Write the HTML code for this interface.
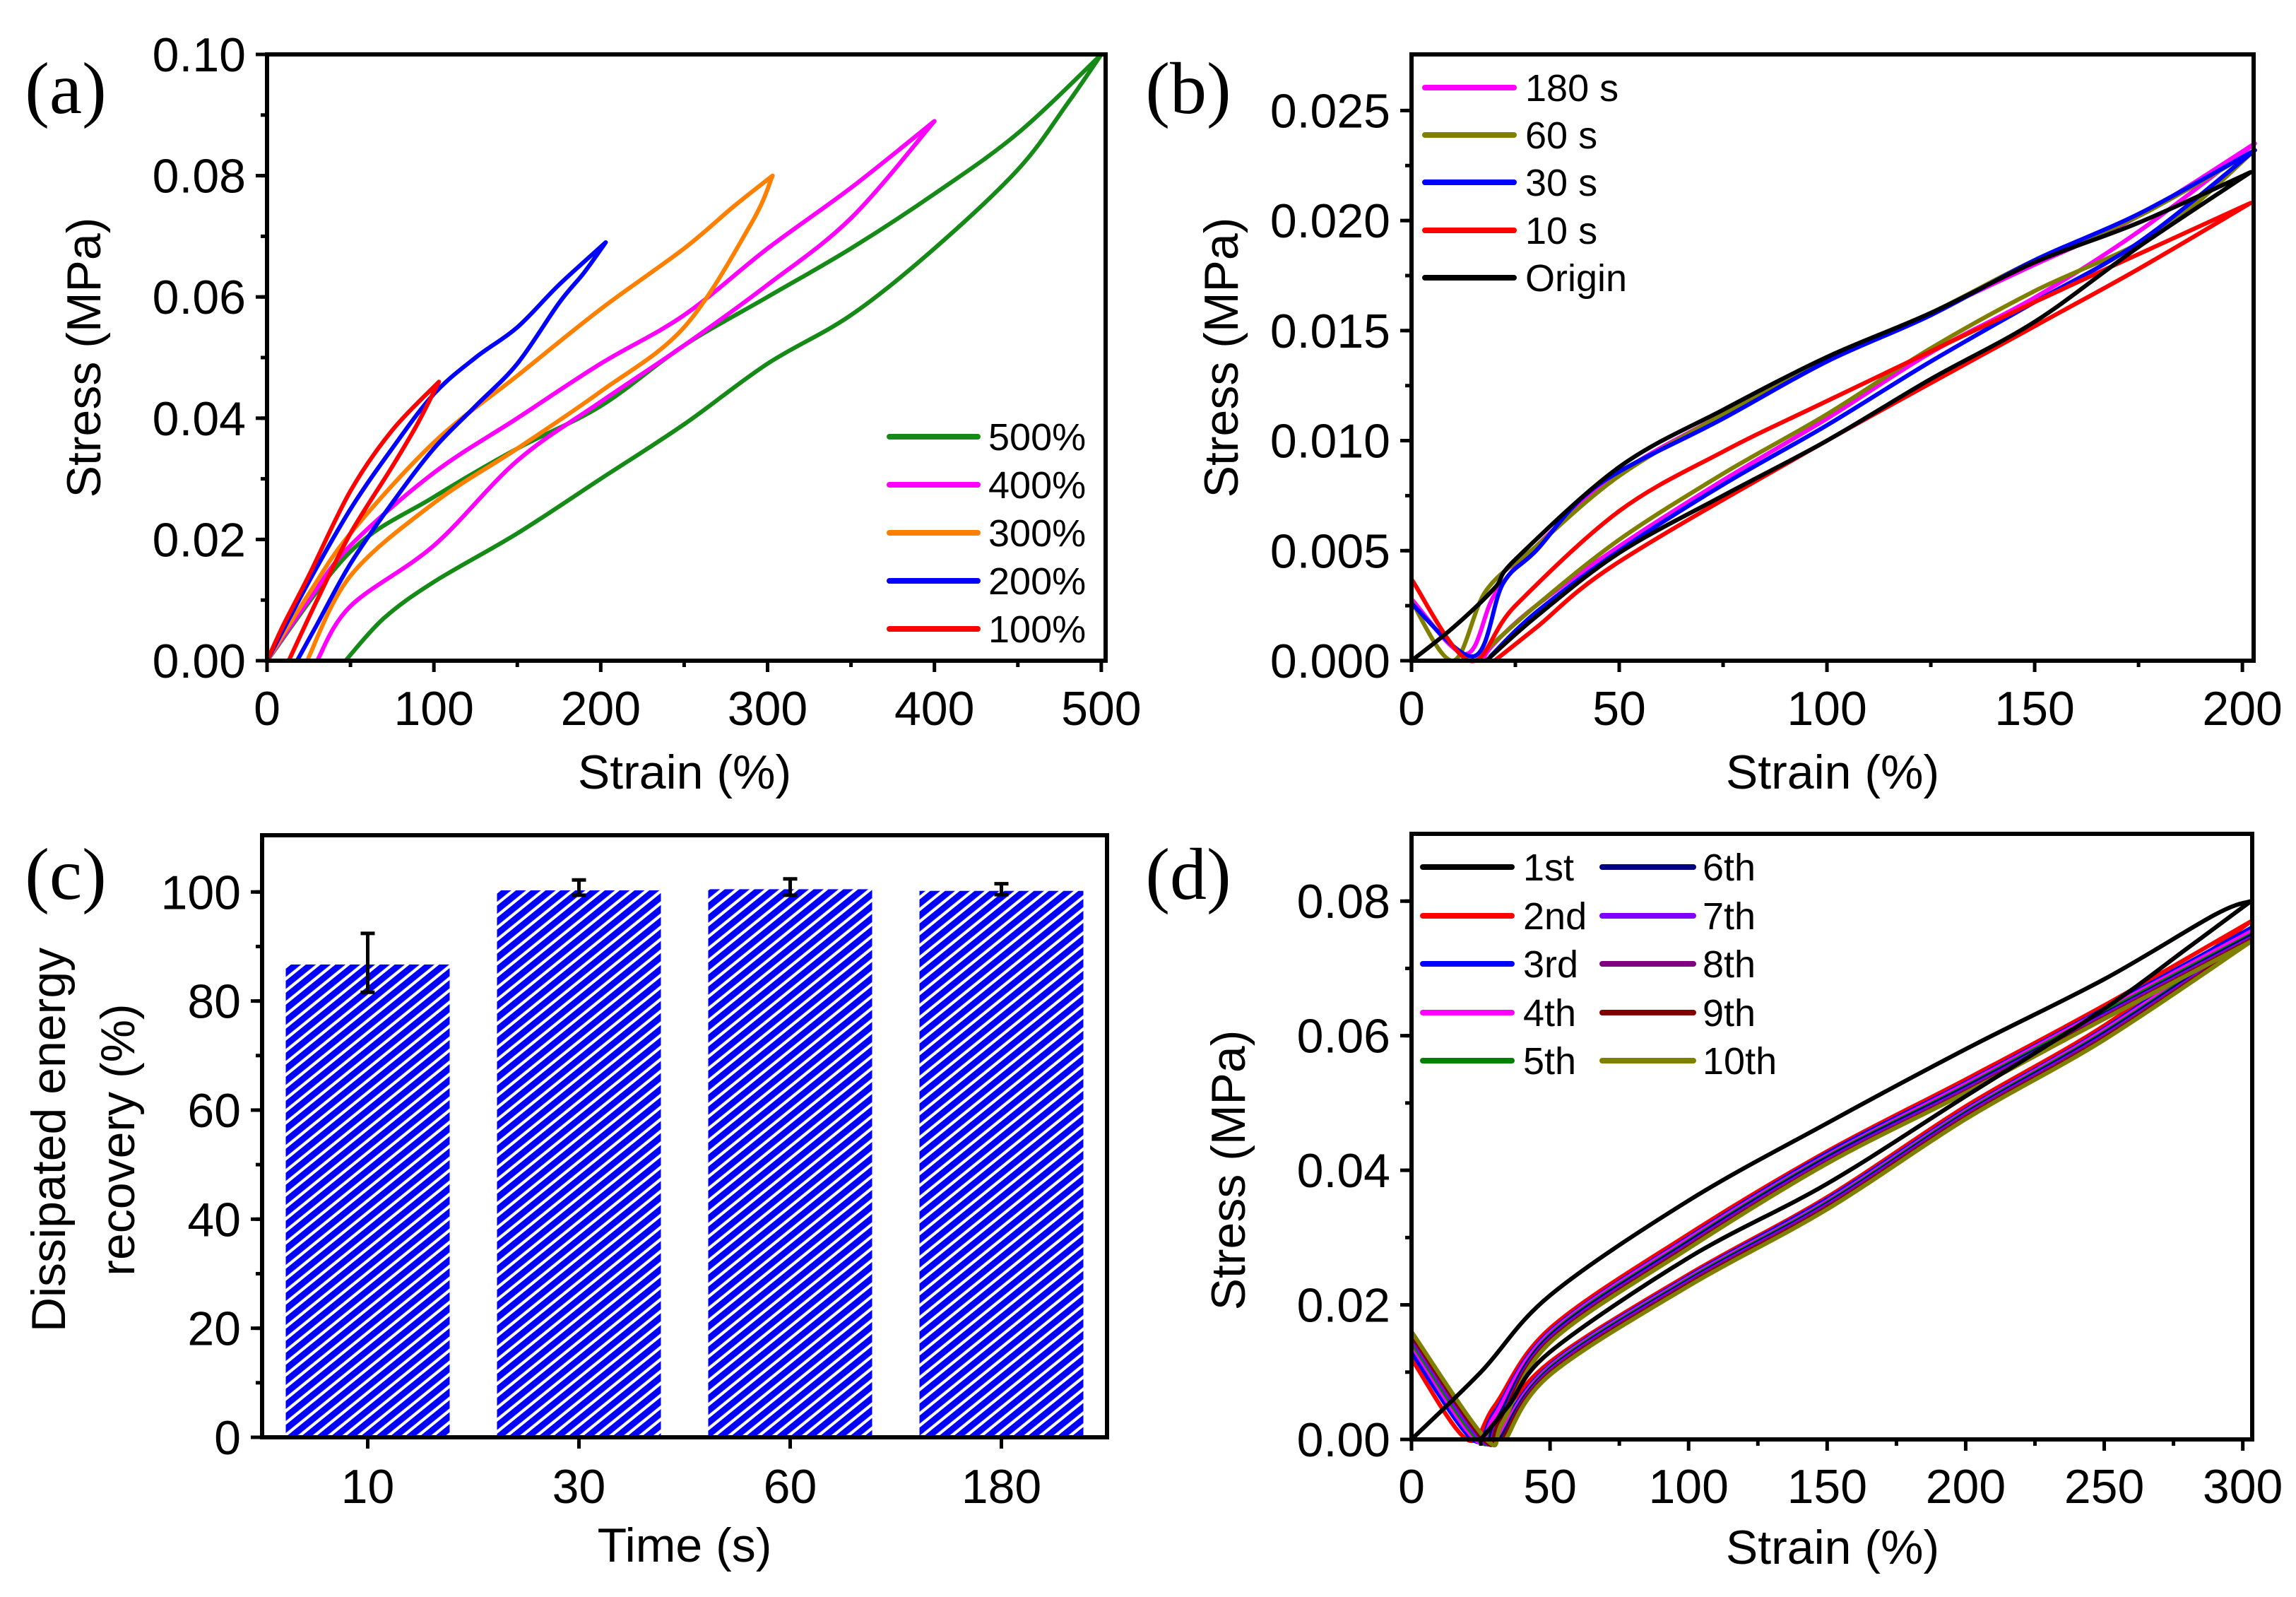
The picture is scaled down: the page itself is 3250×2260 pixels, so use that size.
<!DOCTYPE html>
<html><head><meta charset="utf-8"><style>
html,body{margin:0;padding:0;background:#fff;}
svg{display:block;}
text{font-family:"Liberation Sans",Arial,sans-serif;fill:#000;}
text.serif{font-family:"Liberation Serif","DejaVu Serif",serif;}
</style></head><body>
<svg id="fig" xmlns="http://www.w3.org/2000/svg" width="3250" height="2260" viewBox="0 0 3250 2260">
<defs>
<pattern id="hatch" patternUnits="userSpaceOnUse" width="13.2" height="13.2" patternTransform="rotate(-39)">
<rect x="0" y="0" width="13.2" height="13.2" fill="#ffffff"/>
<rect x="0" y="0" width="13.2" height="9" fill="#0000ff"/>
</pattern>
</defs>
</svg>
<script>
// ---------- Panel (a) data ----------
const aSeriesNames = ["500%","400%","300%","200%","100%"];
const aColors = ["#168a16","#ff00ff","#ff8000","#0000ff","#ff0000"];
const a500 = [[0,0],[50,0.018],[100,0.027],[150,0.035],[200,0.042],[250,0.052],[300,0.060],[350,0.068],[400,0.077],[450,0.087],[500,0.100],[480,0.092],[450,0.081],[400,0.068],[350,0.057],[300,0.049],[250,0.039],[200,0.030],[150,0.021],[100,0.013],[70,0.007],[47,0]];
const a400 = [[0,0],[25,0.010],[50,0.019],[100,0.031],[150,0.040],[200,0.049],[250,0.057],[300,0.068],[350,0.078],[400,0.089],[350,0.073],[300,0.062],[250,0.052],[200,0.0427],[150,0.033],[100,0.019],[50,0.009],[30,0]];
const a300 = [[0,0],[25,0.011],[50,0.021],[100,0.036],[150,0.047],[200,0.058],[250,0.068],[280,0.075],[303,0.080],[290,0.072],[250,0.055],[200,0.0444],[150,0.035],[100,0.026],[50,0.014],[24,0]];
const a200 = [[0,0],[25,0.013],[50,0.025],[75,0.035],[100,0.044],[125,0.050],[150,0.055],[175,0.062],[203,0.069],[190,0.064],[175,0.059],[150,0.049],[125,0.042],[100,0.035],[75,0.026],[50,0.016],[30,0.006],[18,0]];
const a100 = [[0,0],[10,0.006],[25,0.014],[50,0.028],[75,0.038],[103,0.046],[90,0.039],[75,0.032],[50,0.021],[30,0.010],[13,0]];
const aSeries = [a500,a400,a300,a200,a100];
const aXTicks = [0,100,200,300,400,500];
const aXTickLabels = ["0","100","200","300","400","500"];
const aYTicks = [0,0.02,0.04,0.06,0.08,0.10];
const aYTickLabels = ["0.00","0.02","0.04","0.06","0.08","0.10"];

// ---------- Panel (b) data ----------
const bSeriesNames = ["180 s","60 s","30 s","10 s","Origin"];
const bColors = ["#ff00ff","#808000","#0000ff","#ff0000","#000000"];
const b180 = [[0,0.0028],[13,0.0003],[20,0.0030],[30,0.0052],[50,0.0085],[75,0.0112],[100,0.0137],[125,0.0158],[150,0.0180],[175,0.0202],[203,0.0235],[175,0.0195],[150,0.0165],[125,0.0140],[100,0.0110],[75,0.0082],[50,0.0052],[30,0.0025],[20,0.0008],[17,0]];
const b60 = [[0,0.0027],[10,0],[18,0.0032],[30,0.0052],[50,0.0084],[75,0.0112],[100,0.0137],[125,0.0158],[150,0.0182],[175,0.0202],[203,0.0232],[180,0.0195],[150,0.0168],[125,0.0142],[100,0.0112],[75,0.0085],[50,0.0055],[30,0.0025],[18,0.0005]];
const b30 = [[0,0.0026],[15,0.0002],[22,0.0035],[30,0.0050],[45,0.0080],[75,0.0110],[100,0.0136],[125,0.0157],[150,0.0182],[175,0.0203],[203,0.0232],[175,0.0190],[150,0.0163],[125,0.0136],[100,0.0107],[75,0.0080],[50,0.0050],[30,0.0022],[19,0.0002]];
const b10 = [[0,0.0037],[14,0],[25,0.0025],[50,0.0068],[75,0.0095],[100,0.0118],[150,0.0163],[202,0.0208],[175,0.0178],[150,0.0152],[100,0.0100],[50,0.0045],[30,0.0015],[20,0]];
const bOrigin = [[0,0],[10,0.0015],[20,0.0033],[25,0.0046],[50,0.0088],[75,0.0114],[100,0.0138],[125,0.0158],[150,0.0181],[175,0.0199],[202,0.0222],[175,0.0188],[150,0.0154],[125,0.0128],[100,0.0100],[75,0.0075],[50,0.0049],[30,0.0020],[18,0]];
const bSeries = [b180,b60,b30,b10,bOrigin];
const bXTicks = [0,50,100,150,200];
const bXTickLabels = ["0","50","100","150","200"];
const bYTicks = [0,0.005,0.010,0.015,0.020,0.025];
const bYTickLabels = ["0.000","0.005","0.010","0.015","0.020","0.025"];

// ---------- Panel (c) data ----------
const cCategories = ["10","30","60","180"];
const cValues = [86.7,100.3,100.5,100.2];
const cErrors = [5.4,1.4,1.5,1.0];
const cErrCenters = [87.0,100.8,100.9,100.5];
const cYTicks = [0,20,40,60,80,100];
const cYTickLabels = ["0","20","40","60","80","100"];

// ---------- Panel (d) data ----------
const dSeriesNames = ["1st","2nd","3rd","4th","5th","6th","7th","8th","9th","10th"];
const dColors = ["#000000","#ff0000","#0000ff","#ff00ff","#008000","#000080","#8000ff","#800080","#800000","#808000"];
const d1 = [[0,0],[25,0.010],[50,0.0214],[100,0.0355],[150,0.047],[200,0.058],[250,0.0684],[290,0.078],[303,0.080],[280,0.073],[250,0.064],[200,0.051],[150,0.038],[100,0.027],[50,0.013],[35,0.005],[25,0]];
const d2 = [[0,0.012],[20,0],[30,0.005],[50,0.0165],[100,0.0305],[150,0.0428],[200,0.0535],[250,0.0645],[303,0.077],[250,0.0615],[200,0.0495],[150,0.036],[100,0.0245],[50,0.0115],[30,0.002],[25,0]];
const d3 = [[0,0.013],[22,0],[30,0.004],[50,0.016],[100,0.030],[150,0.0425],[200,0.053],[250,0.064],[303,0.076],[250,0.061],[200,0.049],[150,0.0357],[100,0.0242],[50,0.011],[30,0]];
const d4 = [[0,0.014],[23,0],[30,0.0035],[50,0.0158],[100,0.0298],[150,0.0422],[200,0.0528],[250,0.0638],[303,0.0755],[250,0.0608],[200,0.0488],[150,0.0354],[100,0.024],[50,0.0108],[31,0]];
const d5 = [[0,0.0145],[24,0],[31,0.003],[50,0.0155],[100,0.0295],[150,0.042],[200,0.0525],[250,0.0635],[303,0.075],[250,0.0605],[200,0.0486],[150,0.0352],[100,0.0238],[50,0.0106],[32,0]];
const d6 = [[0,0.015],[25,0],[31,0.003],[50,0.0153],[100,0.0293],[150,0.0418],[200,0.0523],[250,0.0632],[303,0.0748],[250,0.0603],[200,0.0484],[150,0.035],[100,0.0236],[50,0.0104],[32,0]];
const d7 = [[0,0.015],[25,0],[32,0.003],[50,0.015],[100,0.029],[150,0.0415],[200,0.052],[250,0.063],[303,0.0745],[250,0.060],[200,0.0482],[150,0.0348],[100,0.0234],[50,0.0102],[33,0]];
const d8 = [[0,0.0155],[26,0],[32,0.0028],[50,0.0148],[100,0.0288],[150,0.0413],[200,0.0518],[250,0.0628],[303,0.0743],[250,0.0598],[200,0.048],[150,0.0346],[100,0.0232],[50,0.010],[33,0]];
const d9 = [[0,0.0155],[26,0],[32,0.0027],[50,0.0146],[100,0.0286],[150,0.0411],[200,0.0516],[250,0.0626],[303,0.0742],[250,0.0596],[200,0.0478],[150,0.0344],[100,0.023],[50,0.0098],[33,0]];
const d10 = [[0,0.016],[27,0],[33,0.0026],[50,0.0144],[100,0.0284],[150,0.041],[200,0.0515],[250,0.0625],[303,0.074],[250,0.0594],[200,0.0476],[150,0.0342],[100,0.0228],[50,0.0096],[34,0]];
const dSeries = [d1,d2,d3,d4,d5,d6,d7,d8,d9,d10];
const dXTicks = [0,50,100,150,200,250,300];
const dXTickLabels = ["0","50","100","150","200","250","300"];
const dYTicks = [0,0.02,0.04,0.06,0.08];
const dYTickLabels = ["0.00","0.02","0.04","0.06","0.08"];

const NS = "http://www.w3.org/2000/svg";
const svg = document.getElementById("fig");
function mk(tag, attrs, parent){
  const e = document.createElementNS(NS, tag);
  for (const k in attrs) e.setAttribute(k, attrs[k]);
  (parent||svg).appendChild(e);
  return e;
}
function txt(str, x, y, size, anchor, parent){
  const t = mk("text", {x:x, y:y, "font-size":size, "text-anchor":anchor||"middle"}, parent);
  t.textContent = str;
  return t;
}
function scaleLin(d0,d1,r0,r1){ return v => r0 + (v-d0)/(d1-d0)*(r1-r0); }

function axesFrame(g, L, T, R, B){
  const f = mk("rect", {x:L, y:T, width:R-L, height:B-T, fill:"none", stroke:"#000", "stroke-width":6}, g);
  
  
}
function yAxis(g, L, ys, ticks, labels, minorStep, ymin, ymax){
  ticks.forEach((v,i)=>{
    const y = ys(v);
    const tk = mk("line",{x1:L-16,y1:y,x2:L,y2:y,stroke:"#000","stroke-width":5},g);
    
    
    const t = txt(labels[i], L-30, y+24, 68, "end", g);
    
    
  });
  for (let v=ymin+minorStep; v<ymax-1e-9; v+=minorStep){
    const y = ys(v);
    const tk = mk("line",{x1:L-9,y1:y,x2:L,y2:y,stroke:"#000","stroke-width":5},g);
    
    
  }
}
function xAxis(g, B, xs, ticks, labels, minorStep, xmin, xmax, labelY){
  ticks.forEach((v,i)=>{
    const x = xs(v);
    const tk = mk("line",{x1:x,y1:B,x2:x,y2:B+16,stroke:"#000","stroke-width":5},g);
    
    
    const t = txt(labels[i], x, labelY, 68, "middle", g);
    
    
  });
  if (minorStep) for (let v=xmin+minorStep; v<xmax-1e-9; v+=minorStep){
    if (ticks.some(t=>Math.abs(t-v)<1e-9)) continue;
    const x = xs(v);
    const tk = mk("line",{x1:x,y1:B,x2:x,y2:B+9,stroke:"#000","stroke-width":5},g);
    
    
  }
}
// smooth path: split where x-direction reverses, Catmull-Rom within each segment
function smoothPath(pts){
  const segs = [];
  let cur = [pts[0]];
  for (let i=1;i<pts.length;i++){
    cur.push(pts[i]);
    if (i<pts.length-1){
      const d1 = pts[i][0]-pts[i-1][0], d2 = pts[i+1][0]-pts[i][0];
      if (d1*d2 < 0){ segs.push(cur); cur=[pts[i]]; }
    }
  }
  segs.push(cur);
  let d = "M"+pts[0][0].toFixed(1)+","+pts[0][1].toFixed(1);
  segs.forEach(s=>{
    for (let i=0;i<s.length-1;i++){
      const p0 = s[i-1]||s[i], p1=s[i], p2=s[i+1], p3=s[i+2]||s[i+1];
      const c1=[p1[0]+(p2[0]-p0[0])/6, p1[1]+(p2[1]-p0[1])/6];
      const c2=[p2[0]-(p3[0]-p1[0])/6, p2[1]-(p3[1]-p1[1])/6];
      d += ` C${c1[0].toFixed(1)},${c1[1].toFixed(1)} ${c2[0].toFixed(1)},${c2[1].toFixed(1)} ${p2[0].toFixed(1)},${p2[1].toFixed(1)}`;
    }
  });
  return d;
}
function drawSeries(g, data, xs, ys, color, name){
  const pts = data.map(p=>[xs(p[0]), ys(p[1])]);
  const p = mk("path",{d:smoothPath(pts), fill:"none", stroke:color, "stroke-width":6, "stroke-linejoin":"round","stroke-linecap":"round"}, g);
  
  
}
function legendEntry(g, x1, x2, y, color, label, tx){
  const l = mk("line",{x1:x1,y1:y,x2:x2,y2:y,stroke:color,"stroke-width":8,"stroke-linecap":"round"},g);
  
  
  const t = txt(label, tx, y+19, 54, "start", g);
  
  
}
function panelLabel(str, x, y){
  const t = mk("text",{x:x,y:y,"font-size":104,"text-anchor":"middle","class":"serif"});
  t.textContent = str;
  
  
}
function yTitle(lines, cx, cy, g){
  lines.forEach((s,i)=>{
    const t = mk("text",{x:0,y:0,"font-size":68,"text-anchor":"middle",transform:`translate(${cx[i]},${cy}) rotate(-90)`},g);
    t.textContent = s;
    
    
  });
}
function xTitle(s, cx, y, g){
  const t = txt(s, cx, y, 68, "middle", g);
  
  
}

// ===== Panel (a) =====
(function(){
  const g = mk("g",{});
  
  
  const L=378,R=1565,T=77,B=935;
  const xs = scaleLin(0,502.6,L,R), ys = scaleLin(0,0.1,B,T);
  aSeries.forEach((s,i)=>drawSeries(g,s,xs,ys,aColors[i],aSeriesNames[i]));
  axesFrame(g,L,T,R,B);
  yAxis(g,L,ys,aYTicks,aYTickLabels,0.01,0,0.1);
  xAxis(g,B,xs,aXTicks,aXTickLabels,50,0,502,1026);
  const ly=[618,686,754,822,890];
  aSeriesNames.forEach((n,i)=>legendEntry(g,1259,1384,ly[i],aColors[i],n,1399));
  yTitle(["Stress (MPa)"],[142],506,g);
  xTitle("Strain (%)",969,1116,g);
  panelLabel("(a)",93,160);
})();

// ===== Panel (b) =====
(function(){
  const g = mk("g",{});
  
  
  const L=1998,R=3190,T=77,B=935;
  const xs = scaleLin(0,202.7,L,R), ys = scaleLin(0,0.02755,B,T);
  bSeries.forEach((s,i)=>drawSeries(g,s,xs,ys,bColors[i],bSeriesNames[i]));
  axesFrame(g,L,T,R,B);
  yAxis(g,L,ys,bYTicks,bYTickLabels,0.0025,0,0.0275);
  xAxis(g,B,xs,bXTicks,bXTickLabels,25,0,202,1026);
  const ly=[124,191,258,326,393];
  bSeriesNames.forEach((n,i)=>legendEntry(g,2017,2143,ly[i],bColors[i],n,2159));
  yTitle(["Stress (MPa)"],[1752],506,g);
  xTitle("Strain (%)",2594,1116,g);
  panelLabel("(b)",1682,160);
})();

// ===== Panel (c) =====
(function(){
  const g = mk("g",{});
  
  
  const L=371,R=1567,T=1182,B=2034;
  const slot=(R-L)/cCategories.length;
  const xc = i => L + slot*(i+0.5);
  const ys = scaleLin(0,110.4,B,T);
  const bw = 232;
  cValues.forEach((v,i)=>{
    const r = mk("rect",{x:xc(i)-bw/2,y:ys(v),width:bw,height:B-ys(v),fill:"url(#hatch)"},g);
    
    
    const c = cErrCenters[i], e = cErrors[i];
    const eb = mk("path",{d:`M${xc(i)},${ys(c-e)} L${xc(i)},${ys(c+e)} M${xc(i)-10},${ys(c-e)} L${xc(i)+10},${ys(c-e)} M${xc(i)-10},${ys(c+e)} L${xc(i)+10},${ys(c+e)}`,stroke:"#000","stroke-width":5,fill:"none"},g);
    
    
  });
  axesFrame(g,L,T,R,B);
  yAxis(g,L,ys,cYTicks,cYTickLabels,10,0,110);
  xAxis(g,B,xc,[0,1,2,3],cCategories,0,0,4,2127);
  yTitle(["Dissipated energy","recovery (%)"],[92,190],1613,g);
  xTitle("Time (s)",969,2210,g);
  panelLabel("(c)",93,1272);
})();

// ===== Panel (d) =====
(function(){
  const g = mk("g",{});
  
  
  const L=1998,R=3188,T=1180,B=2037;
  const xs = scaleLin(0,303.4,L,R), ys = scaleLin(0,0.09,B,T);
  dSeries.forEach((s,i)=>{ if(i>0) drawSeries(g,s,xs,ys,dColors[i],dSeriesNames[i]); });
  drawSeries(g,dSeries[0],xs,ys,dColors[0],dSeriesNames[0]);
  axesFrame(g,L,T,R,B);
  yAxis(g,L,ys,dYTicks,dYTickLabels,0.01,0,0.09);
  xAxis(g,B,xs,dXTicks,dXTickLabels,25,0,303,2127);
  const ly=[1227,1296,1364,1433,1501];
  dSeriesNames.forEach((n,i)=>{
    if(i<5) legendEntry(g,2014,2140,ly[i],dColors[i],n,2156);
    else legendEntry(g,2268,2397,ly[i-5],dColors[i],n,2410);
  });
  yTitle(["Stress (MPa)"],[1762],1656,g);
  xTitle("Strain (%)",2594,2213,g);
  panelLabel("(d)",1682,1272);
})();
</script>
</body></html>
